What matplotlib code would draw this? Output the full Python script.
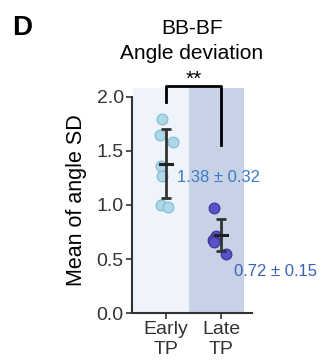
#!/usr/bin/env python3

import matplotlib
matplotlib.use('Agg')
import matplotlib.pyplot as plt
import numpy as np

plt.rcParams['font.family'] = ['Liberation Sans', 'DejaVu Sans']

# data
groups = ['Early\nTP', 'Late\nTP']
early_vals = [1.79, 1.65, 1.58, 1.36, 1.27, 1.00, 0.985]
early_jitter = [-0.07, -0.11, 0.13, -0.09, -0.07, -0.09, 0.04]
late_vals = [0.97, 0.71, 0.68, 0.66, 0.55]
late_jitter = [-0.13, -0.09, -0.15, -0.13, 0.09]
means = [1.38, 0.72]
sds = [0.32, 0.15]
mean_labels = ['1.38 ± 0.32', '0.72 ± 0.15']

fig = plt.figure(figsize=(3.22, 3.62), dpi=100)
ax = fig.add_axes([0.41, 0.135, 0.373, 0.622])

# background bands
ax.axvspan(-0.6, 0.42, color='#eff3fa', zorder=0, lw=0)
ax.axvspan(0.42, 1.42, color='#c8d2e7', zorder=0, lw=0)

ax.scatter(np.array(early_jitter) + 0, early_vals, s=60, color='#aed8e8',
           edgecolor='#7fb9d0', lw=0.8, zorder=3)
ax.scatter(np.array(late_jitter) + 1, late_vals, s=60, color='#5a50c8',
           edgecolor='#3b3494', lw=0.8, zorder=3)

for i in range(2):
    ax.errorbar(i, means[i], yerr=sds[i], color='#333333', lw=2.0, capsize=3.5,
                capthick=2.0, zorder=4)
    ax.plot([i - 0.11, i + 0.11], [means[i], means[i]], color='#222222', lw=2.2, zorder=5)

ax.text(0.2, 1.25, mean_labels[0], color='#3a7bc4', fontsize=12, va='center')
ax.text(1.23, 0.38, mean_labels[1], color='#3a62b8', fontsize=12, va='center')

# significance bracket
ax.plot([0, 0, 1, 1], [1.95, 2.1, 2.1, 1.55], color='black', lw=2, clip_on=False, zorder=6)
ax.text(0.5, 2.11, '**', ha='center', va='baseline', fontsize=15)

ax.set_xlim(-0.62, 1.56)
ax.set_ylim(0, 2.08)
ax.set_yticks([0, 0.5, 1.0, 1.5, 2.0])
ax.set_yticklabels(['0.0', '0.5', '1.0', '1.5', '2.0'])
ax.set_xticks([0, 1])
ax.set_xticklabels(groups)
ax.tick_params(labelsize=14, colors='#333333', length=4, width=1.2, pad=2)
ax.spines['top'].set_visible(False)
ax.spines['right'].set_visible(False)
ax.spines['left'].set_bounds(0, 2.0)
for s in ['left', 'bottom']:
    ax.spines[s].set_linewidth(1.5)
    ax.spines[s].set_color('#333333')
ax.set_ylabel('Mean of angle SD', fontsize=15.5, labelpad=7)

fig.text(0.596, 0.907, 'BB-BF', ha='center', va='baseline', fontsize=15)
fig.text(0.596, 0.838, 'Angle deviation', ha='center', va='baseline', fontsize=15)
fig.text(0.037, 0.903, 'D', fontsize=20, fontweight='bold', va='baseline')

fig.savefig('out.png', dpi=100)
